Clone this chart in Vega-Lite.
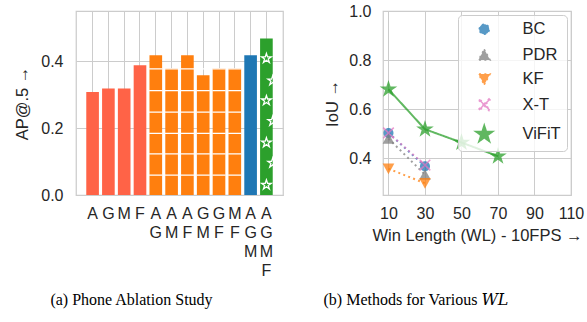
{
  "$schema": "https://vega.github.io/schema/vega-lite/v6.json",
  "background": "white",
  "padding": {"left": 14, "top": 2, "right": 0, "bottom": 0},
  "bounds": "flush",
  "spacing": 100,
  "resolve": {
    "scale": {"color": "independent", "shape": "independent", "opacity": "independent", "strokeDash": "independent"},
    "legend": {"color": "independent", "shape": "independent", "opacity": "independent", "strokeDash": "independent"}
  },
  "config": {
    "font": "Liberation Sans",
    "view": {"stroke": "#cccccc", "strokeWidth": 1.25},
    "axis": {
      "grid": true, "gridColor": "#cccccc", "gridWidth": 1, "domain": false, "ticks": false, "labelFlush": false,
      "labelFontSize": 16, "titleFontSize": 16.5, "labelColor": "#262626", "titleColor": "#262626",
      "titleFontWeight": "normal", "labelFont": "Liberation Sans", "titleFont": "Liberation Sans"
    },
    "title": {"font": "Liberation Serif, DejaVu Serif", "fontSize": 16, "fontWeight": "normal", "color": "black"}
  },
  "hconcat": [
    {
      "width": 207,
      "height": 184,
      "data": {"values": [
        {"combo": "A", "n": 1, "ap": 0.308},
        {"combo": "G", "n": 1, "ap": 0.318},
        {"combo": "M", "n": 1, "ap": 0.318},
        {"combo": "F", "n": 1, "ap": 0.388},
        {"combo": "AG", "n": 2, "ap": 0.418},
        {"combo": "AM", "n": 2, "ap": 0.378},
        {"combo": "AF", "n": 2, "ap": 0.418},
        {"combo": "GM", "n": 2, "ap": 0.358},
        {"combo": "GF", "n": 2, "ap": 0.378},
        {"combo": "MF", "n": 2, "ap": 0.378},
        {"combo": "AGM", "n": 3, "ap": 0.418},
        {"combo": "AGMF", "n": 4, "ap": 0.468}
      ]},
      "title": {"text": "(a) Phone Ablation Study", "orient": "bottom", "frame": "group", "anchor": "middle", "dx": -48, "offset": 14},
      "encoding": {
        "x": {"field": "combo", "type": "nominal", "sort": null,
          "scale": {"paddingInner": 0.2, "paddingOuter": 0.65},
          "axis": {"title": null, "labelAngle": 0, "labelExpr": "split(datum.label, '')", "labelLineHeight": 19, "labelPadding": 10, "bandPosition": 0.5}}
      },
      "layer": [
        {
          "mark": {"type": "bar"},
          "encoding": {
            "y": {"field": "ap", "type": "quantitative", "scale": {"domain": [0, 0.55], "nice": false},
              "axis": {"title": "AP@.5 →", "values": [0, 0.2, 0.4], "format": ".1f", "labelPadding": 13, "titlePadding": 10}},
            "color": {"field": "n", "type": "ordinal", "scale": {"domain": [1, 2, 3, 4], "range": ["#ff6347", "#ff7f0e", "#1f77b4", "#2ca02c"]}, "legend": null}
          }
        },
        {
          "transform": [{"filter": "datum.n == 2"}],
          "mark": {"type": "point", "filled": true, "color": "white", "opacity": 1, "size": 160,
            "shape": "M-1.05,-3.26h2.1v0.2h-2.1zM-1.05,-6.59h2.1v0.2h-2.1zM-1.05,-9.86h2.1v0.2h-2.1zM-1.05,-13.19h2.1v0.2h-2.1zM-1.05,-16.6h2.1v0.2h-2.1zM-1.05,-20.04h2.1v0.2h-2.1z"},
          "encoding": {"y": {"datum": 0, "type": "quantitative", "axis": {"title": "AP@.5 →"}}}
        },
        {
          "transform": [{"filter": "datum.n == 4"}],
          "mark": {"type": "point", "filled": false, "stroke": "white", "strokeWidth": 1.3, "opacity": 1, "size": 160,
            "shape": "M0,-2.4L0.1796,-1.8472L0.7609,-1.8472L0.2906,-1.5056L0.4702,-0.9528L0,-1.2944L-0.4702,-0.9528L-0.2906,-1.5056L-0.7609,-1.8472L-0.1796,-1.8472ZM0,-9.07L0.1796,-8.5172L0.7609,-8.5172L0.2906,-8.1756L0.4702,-7.6228L0,-7.9644L-0.4702,-7.6228L-0.2906,-8.1756L-0.7609,-8.5172L-0.1796,-8.5172ZM0,-15.73L0.1796,-15.1772L0.7609,-15.1772L0.2906,-14.8356L0.4702,-14.2828L0,-14.6244L-0.4702,-14.2828L-0.2906,-14.8356L-0.7609,-15.1772L-0.1796,-15.1772ZM0,-22.4L0.1796,-21.8472L0.7609,-21.8472L0.2906,-21.5056L0.4702,-20.9528L0,-21.2944L-0.4702,-20.9528L-0.2906,-21.5056L-0.7609,-21.8472L-0.1796,-21.8472ZM1,-5.87L1.1796,-5.3172L1.7609,-5.3172L1.2906,-4.9756L1.4702,-4.4228L1,-4.7644L0.5298,-4.4228L0.7094,-4.9756L0.2391,-5.3172L0.8204,-5.3172ZM1,-12.48L1.1796,-11.9272L1.7609,-11.9272L1.2906,-11.5856L1.4702,-11.0328L1,-11.3744L0.5298,-11.0328L0.7094,-11.5856L0.2391,-11.9272L0.8204,-11.9272ZM1,-18.88L1.1796,-18.3272L1.7609,-18.3272L1.2906,-17.9856L1.4702,-17.4328L1,-17.7744L0.5298,-17.4328L0.7094,-17.9856L0.2391,-18.3272L0.8204,-18.3272Z"},
          "encoding": {"y": {"datum": 0, "type": "quantitative", "axis": {"title": "AP@.5 →"}}}
        }
      ]
    },
    {
      "width": 188,
      "height": 184,
      "data": {"values": [
        {"method": "BC", "wl": 10, "iou": 0.503},
        {"method": "BC", "wl": 30, "iou": 0.367},
        {"method": "PDR", "wl": 10, "iou": 0.48},
        {"method": "PDR", "wl": 30, "iou": 0.333},
        {"method": "KF", "wl": 10, "iou": 0.357},
        {"method": "KF", "wl": 30, "iou": 0.298},
        {"method": "X-T", "wl": 10, "iou": 0.503},
        {"method": "X-T", "wl": 30, "iou": 0.372},
        {"method": "ViFiT", "wl": 10, "iou": 0.681},
        {"method": "ViFiT", "wl": 30, "iou": 0.518},
        {"method": "ViFiT", "wl": 50, "iou": 0.464},
        {"method": "ViFiT", "wl": 70, "iou": 0.408}
      ]},
      "title": {"text": "(b) Methods for Various 𝑊𝐿", "orient": "bottom", "frame": "group", "anchor": "middle", "dx": -61, "offset": 48},
      "encoding": {
        "x": {"field": "wl", "type": "quantitative", "scale": {"domain": [7, 110], "nice": false, "zero": false},
          "axis": {"values": [10, 30, 50, 70, 90, 110], "title": "Win Length (WL) - 10FPS →", "labelPadding": 10, "titlePadding": 6}},
        "y": {"field": "iou", "type": "quantitative", "scale": {"domain": [0.25, 1.0], "nice": false, "zero": false},
          "axis": {"values": [0.4, 0.6, 0.8, 1.0], "format": ".1f", "title": "IoU →", "labelPadding": 12, "titlePadding": 8}},
        "color": {"field": "method", "type": "nominal",
          "scale": {"domain": ["BC", "PDR", "KF", "X-T", "ViFiT"], "range": ["#1f77b4", "#7f7f7f", "#ff7f0e", "#e377c2", "#2ca02c"]},
          "legend": {
            "title": null, "orient": "top-right", "offset": 4, "padding": 6, "columnPadding": 0,
            "fillColor": "rgba(255,255,255,0.8)", "strokeColor": "#cccccc", "cornerRadius": 4,
            "labelFontSize": 16.5, "labelColor": "#262626", "labelFont": "Liberation Sans",
            "symbolSize": 100, "symbolOffset": 12, "labelOffset": 30, "rowPadding": 7.5
          }
        },
        "opacity": {"field": "method", "type": "nominal",
          "scale": {"domain": ["BC", "PDR", "KF", "X-T", "ViFiT"], "range": [0.75, 0.75, 0.75, 0.75, 1]}, "legend": null}
      },
      "layer": [
        {
          "mark": {"type": "line", "strokeWidth": 2},
          "encoding": {
            "strokeDash": {"field": "method", "type": "nominal",
              "scale": {"domain": ["BC", "PDR", "KF", "X-T", "ViFiT"], "range": [[2, 3.3], [2, 3.3], [2, 3.3], [2, 3.3], [1, 0]]}, "legend": null}
          }
        },
        {
          "mark": {"type": "point", "filled": true, "size": 100},
          "encoding": {
            "shape": {"field": "method", "type": "nominal",
              "scale": {"domain": ["BC", "PDR", "KF", "X-T", "ViFiT"], "range": [
                "M-1,0A1,1,0,1,1,1,0A1,1,0,1,1,-1,0Z",
                "M0,-1.1L1.17,1.03L-1.17,1.03Z",
                "M0,1.1L1.17,-1.03L-1.17,-1.03Z",
                "M0.9546,-1.1667L1.1667,-0.9546L0.2121,0L1.1667,0.9546L0.9546,1.1667L0,0.2121L-0.9546,1.1667L-1.1667,0.9546L-0.2121,0L-1.1667,-0.9546L-0.9546,-1.1667L0,-0.2121Z",
                "M0,-1.85L0.4153,-0.5717L1.7595,-0.5717L0.6721,0.2183L1.0874,1.4967L0,0.7067L-1.0874,1.4967L-0.6721,0.2183L-1.7595,-0.5717L-0.4153,-0.5717Z"
              ]},
              "legend": null}
          }
        }
      ]
    }
  ]
}
